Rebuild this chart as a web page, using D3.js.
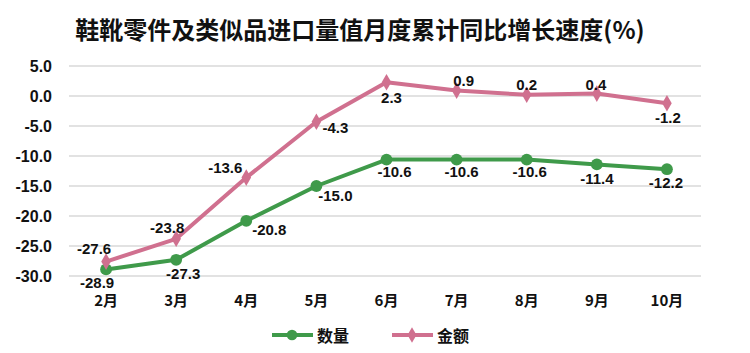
<!DOCTYPE html>
<html>
<head>
<meta charset="utf-8">
<script src="https://cdn.jsdelivr.net/npm/d3@7"></script>
<style>
  body { margin: 0; background: #fff; }
  svg text { font-family: "Noto Sans CJK SC", "Liberation Sans", sans-serif; font-weight: bold; fill: #111; }
</style>
</head>
<body>
<div id="chart"></div>
<script>
// data
const months = ["2月", "3月", "4月", "5月", "6月", "7月", "8月", "9月", "10月"];
const quantity = [-28.9, -27.3, -20.8, -15.0, -10.6, -10.6, -10.6, -11.4, -12.2];
const amount = [-27.6, -23.8, -13.6, -4.3, 2.3, 0.9, 0.2, 0.4, -1.2];
const yTicks = [5, 0, -5, -10, -15, -20, -25, -30];
const seriesNames = ["数量", "金额"];

const width = 750, height = 353;
const green = "#3f9a4a", pink = "#d0708f";

// label offsets (dx, dy) per point, like excel's label placement
const qtyLabelOff = [[-9, 13], [7, 14], [23, 9], [19, 9], [8, 12], [5, 12], [3, 12], [0, 14], [-1, 13]];
const amtLabelOff = [[-12, -13], [-9, -11], [-21, -10], [19, 6], [5, 15], [7, -10], [0, -10], [-1, -9], [1, 14]];

const svg = d3.select("#chart").append("svg")
  .attr("width", width)
  .attr("height", height);

let x = d3.scaleBand().domain(months).range([71, 702]);
let y = d3.scaleLinear().domain([-30, 5]).range([276, 66]);

// title
svg.append("text")
  .attr("x", 360)
  .attr("y", 28)
  .attr("text-anchor", "middle")
  .attr("dominant-baseline", "central")
  .style("font-size", "24px")
  .text("鞋靴零件及类似品进口量值月度累计同比增长速度(%)");

// gridlines
svg.append("g").selectAll("line").data(yTicks).enter().append("line")
  .attr("x1", 69).attr("x2", 701)
  .attr("y1", d => y(d)).attr("y2", d => y(d))
  .attr("stroke", "#d9d9d9")
  .attr("stroke-width", 1.3);

// y labels
svg.append("g").selectAll("text").data(yTicks).enter().append("text")
  .attr("x", 52)
  .attr("y", d => y(d))
  .attr("text-anchor", "end")
  .attr("dominant-baseline", "central")
  .style("font-family", "'Liberation Sans', sans-serif")
  .style("font-size", "16px")
  .text(d => d.toFixed(1));

// x labels
svg.append("g").selectAll("text").data(months).enter().append("text")
  .attr("x", d => x(d) + x.bandwidth() / 2)
  .attr("y", 299)
  .attr("text-anchor", "middle")
  .attr("dominant-baseline", "central")
  .style("font-size", "15px")
  .text(d => d);

let line = d3.line()
  .x((d, i) => x(months[i]) + x.bandwidth() / 2)
  .y(d => y(d));

function drawSeries(values, color, shape, offsets) {
  let g = svg.append("g");
  g.append("path")
    .datum(values)
    .attr("d", line)
    .attr("fill", "none")
    .attr("stroke", color)
    .attr("stroke-width", 4)
    .attr("stroke-linejoin", "round");

  g.selectAll("path.marker").data(values).enter().append("path")
    .attr("class", "marker")
    .attr("transform", (d, i) => "translate(" + (x(months[i]) + x.bandwidth() / 2) + "," + y(d) + ")")
    .attr("d", d3.symbol().type(shape).size(shape === d3.symbolCircle ? 110 : 80))
    .attr("fill", color);

  g.selectAll("text").data(values).enter().append("text")
    .attr("x", (d, i) => x(months[i]) + x.bandwidth() / 2 + offsets[i][0])
    .attr("y", (d, i) => y(d) + offsets[i][1])
    .attr("text-anchor", "middle")
    .attr("dominant-baseline", "central")
    .style("font-family", "'Liberation Sans', sans-serif")
    .style("font-size", "15px")
    .text(d => d.toFixed(1));
}

drawSeries(quantity, green, d3.symbolCircle, qtyLabelOff);
drawSeries(amount, pink, d3.symbolDiamond, amtLabelOff);

// legend
let legendItems = [
  { name: seriesNames[0], color: green, shape: d3.symbolCircle, x: 272 },
  { name: seriesNames[1], color: pink, shape: d3.symbolDiamond, x: 392 }
];
let legend = svg.append("g").selectAll("g").data(legendItems).enter().append("g")
  .attr("transform", d => "translate(" + d.x + ",335)");
legend.append("line")
  .attr("x1", 0).attr("x2", 41)
  .attr("stroke", d => d.color)
  .attr("stroke-width", 4);
legend.append("path")
  .attr("transform", "translate(20,0)")
  .attr("d", d => d3.symbol().type(d.shape).size(d.shape === d3.symbolCircle ? 90 : 70)())
  .attr("fill", d => d.color);
legend.append("text")
  .attr("x", 45)
  .attr("dominant-baseline", "central")
  .style("font-size", "16px")
  .text(d => d.name);
</script>
</body>
</html>
